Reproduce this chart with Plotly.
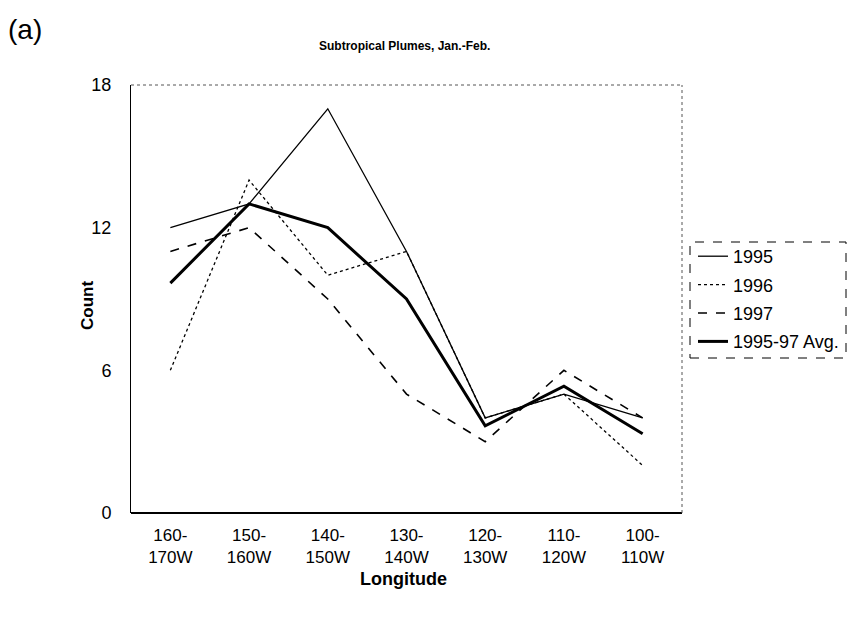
import plotly.graph_objects as go

categories = ["160-<br>170W", "150-<br>160W", "140-<br>150W", "130-<br>140W",
              "120-<br>130W", "110-<br>120W", "100-<br>110W"]
y1995 = [12, 13, 17, 11, 4, 5, 4]
y1996 = [6, 14, 10, 11, 4, 5, 2]
y1997 = [11, 12, 9, 5, 3, 6, 4]
yavg = [9.67, 13, 12, 9, 3.67, 5.33, 3.33]
yticks = [0, 6, 12, 18]

x = list(range(len(categories)))
FONT = "Liberation Sans, Arial, sans-serif"

fig = go.Figure()
series = [
    ("1995", y1995, dict(color="black", width=1.3, dash="solid")),
    ("1996", y1996, dict(color="black", width=1.3, dash="dot")),
    ("1997", y1997, dict(color="black", width=1.6, dash="dash")),
    ("1995-97 Avg.", yavg, dict(color="black", width=3, dash="solid")),
]
for i, (name, ys, line) in enumerate(series):
    fig.add_trace(go.Scatter(x=x, y=ys, mode="lines", name=name, line=line,
                             legendgroup=f"g{i}"))

L, R, T, B = 131, 167, 85, 105
W, H = 849, 618
pw = W - L - R
ph = H - T - B

def px(xp):
    return (xp - L) / pw

def py(yp):
    return (H - B - yp) / ph

fig.update_layout(
    width=W, height=H,
    margin=dict(l=L, r=R, t=T, b=B, autoexpand=False),
    paper_bgcolor="white", plot_bgcolor="white",
    font=dict(family=FONT, color="black"),
    showlegend=True,
    legend=dict(x=px(693), y=py(238), xanchor="left", yanchor="top",
                font=dict(size=18, family=FONT), bgcolor="rgba(0,0,0,0)",
                borderwidth=0, itemwidth=30, tracegroupgap=2,
                itemclick=False),
    xaxis=dict(range=[-0.5, 6.5], tickvals=x, ticktext=categories,
               showgrid=False, zeroline=False, showline=False,
               ticks="", tickfont=dict(size=17, family=FONT),
               ticklabelstandoff=10),
    yaxis=dict(range=[0, 18], tickvals=yticks, showgrid=False, zeroline=False,
               showline=True, linecolor="black", linewidth=1, ticks="",
               tickfont=dict(size=18, family=FONT), ticklabelstandoff=15),
)

# bottom axis (solid, thick), top & right borders (dotted)
fig.add_shape(type="line", xref="paper", yref="paper", x0=0, x1=1, y0=0, y1=0,
              line=dict(color="black", width=2))
fig.add_shape(type="line", xref="paper", yref="paper", x0=0, x1=1, y0=1, y1=1,
              line=dict(color="#555", width=1, dash="dot"))
fig.add_shape(type="line", xref="paper", yref="paper", x0=1, x1=1, y0=0, y1=1,
              line=dict(color="#555", width=1, dash="dot"))
# legend box (dashed)
fig.add_shape(type="rect", xref="paper", yref="paper",
              x0=px(690), x1=px(846), y0=py(358), y1=py(242),
              line=dict(color="black", width=1, dash="dash"))

# axis titles
fig.add_annotation(text="<b>Longitude</b>", xref="paper", yref="paper",
                   x=px(403), y=py(579), showarrow=False,
                   font=dict(size=18, family=FONT), xanchor="center", yanchor="middle")
fig.add_annotation(text="<b>Count</b>", xref="paper", yref="paper",
                   x=px(87), y=py(306), showarrow=False, textangle=-90,
                   font=dict(size=17, family=FONT), xanchor="center", yanchor="middle")

fig.add_annotation(text="(a)", xref="paper", yref="paper", x=px(25), y=py(30),
                   showarrow=False, font=dict(size=28, family=FONT),
                   xanchor="center", yanchor="middle")
fig.add_annotation(text="<b>Subtropical Plumes, Jan.-Feb.</b>", xref="paper", yref="paper",
                   x=px(404), y=py(46), showarrow=False,
                   font=dict(size=12, family=FONT), xanchor="center", yanchor="middle")

fig.write_html("out.html")
